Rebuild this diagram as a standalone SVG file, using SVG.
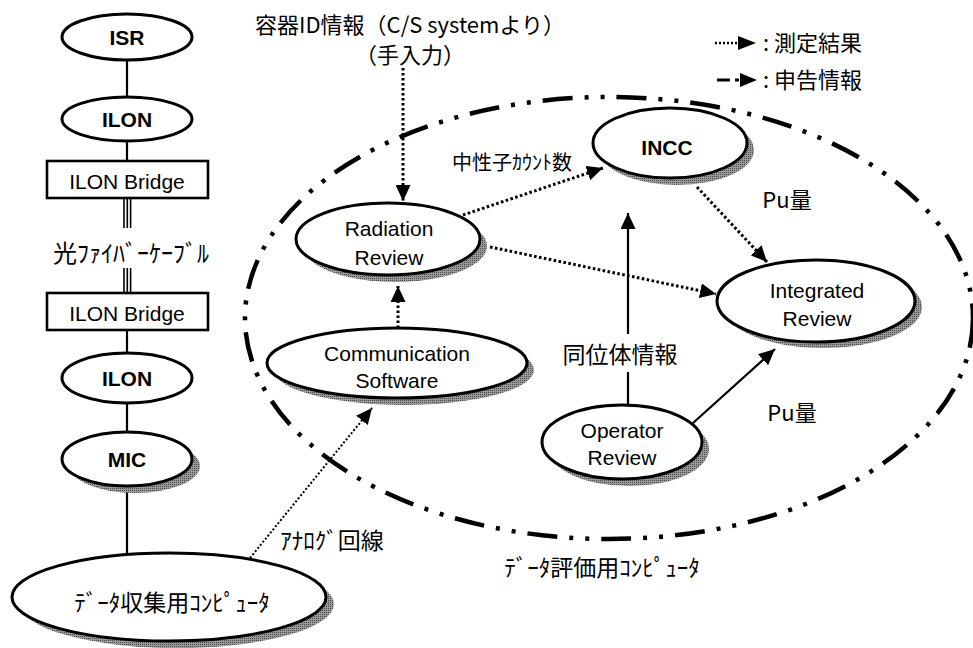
<svg xmlns="http://www.w3.org/2000/svg" width="973" height="648" viewBox="0 0 973 648">
  <style>
    .node { fill: #ffffff; stroke: #000000; stroke-width: 3; }
    .box { fill: #ffffff; stroke: #000000; stroke-width: 2.6; }
    .shade { fill: url(#grain); stroke: none; }
    .en { font-family: "Liberation Sans", Arial, sans-serif; font-size: 21px; fill: #000000; text-anchor: middle; }
    .enb { font-weight: bold; }
    .jp { font-family: "Noto Sans CJK JP", "Noto Sans", sans-serif; fill: #000000; text-anchor: middle; }
    .jpl { font-family: "Noto Sans CJK JP", "Noto Sans", sans-serif; fill: #000000; text-anchor: start; }
    .solid { fill: none; stroke: #000000; stroke-width: 2.2; }
    .dotted { fill: none; stroke: #000000; stroke-width: 3; stroke-dasharray: 2.6 2.4; }
    .fine { fill: none; stroke: #000000; stroke-width: 2; stroke-dasharray: 2 2; }
    .fiber { fill: none; stroke: #000000; stroke-width: 1.6; }
    .boundary { fill: none; stroke: #000000; stroke-width: 4.5; stroke-dasharray: 30 12 4 12 4 12; }
  </style>
  <defs>
    <marker id="head" markerUnits="userSpaceOnUse" markerWidth="17" markerHeight="15" refX="16" refY="7.5" orient="auto">
      <path d="M0,0 L16,7.5 L0,15 Z" fill="#000000"/>
    </marker>
    <!-- halftone grey used for the drop shadows -->
    <pattern id="grain" patternUnits="userSpaceOnUse" width="2" height="2">
      <rect x="0" y="0" width="2" height="2" fill="#9a9a9a"/>
      <rect x="0" y="0" width="1" height="1" fill="#4a4a4a"/>
    </pattern>
  </defs>

  <rect x="0" y="0" width="973" height="648" fill="#ffffff"/>

  <!-- data-evaluation computer boundary -->
  <ellipse class="boundary" cx="609" cy="318" rx="364" ry="221"/>

  <!-- connectors -->
  <g id="connectors">
    <!-- left chain -->
    <line class="solid" x1="127" y1="60" x2="127" y2="97"/>
    <line class="solid" x1="127" y1="141" x2="127" y2="161"/>
    <g class="fiber">
      <line x1="124" y1="198" x2="124" y2="228"/>
      <line x1="127.3" y1="198" x2="127.3" y2="228"/>
      <line x1="130.6" y1="198" x2="130.6" y2="228"/>
      <line x1="124" y1="268" x2="124" y2="293"/>
      <line x1="127.3" y1="268" x2="127.3" y2="293"/>
      <line x1="130.6" y1="268" x2="130.6" y2="293"/>
    </g>
    <line class="solid" x1="127" y1="330" x2="127" y2="353"/>
    <line class="solid" x1="127" y1="403" x2="127" y2="432"/>
    <line class="solid" x1="127" y1="486" x2="127" y2="553"/>

    <!-- analog line -->
    <line class="fine" x1="250" y1="558" x2="372" y2="408" marker-end="url(#head)"/>
    <!-- container ID input -->
    <line class="dotted" x1="403" y1="68" x2="403" y2="201" marker-end="url(#head)"/>
    <!-- Communication Software to Radiation Review -->
    <line class="dotted" x1="398" y1="328" x2="398" y2="286" marker-end="url(#head)"/>
    <!-- Radiation Review to INCC -->
    <line class="dotted" x1="463" y1="215" x2="603" y2="168" marker-end="url(#head)"/>
    <!-- Radiation Review to Integrated Review -->
    <line class="dotted" x1="490" y1="247" x2="716" y2="294" marker-end="url(#head)"/>
    <!-- INCC to Integrated Review -->
    <line class="dotted" x1="697" y1="187" x2="767" y2="262" marker-end="url(#head)"/>
    <!-- Operator Review to INCC (isotope info) -->
    <line class="solid" x1="628" y1="405" x2="628" y2="372"/>
    <line class="solid" x1="628" y1="334" x2="628" y2="213" marker-end="url(#head)"/>
    <!-- Operator Review to Integrated Review -->
    <line class="solid" x1="693" y1="423" x2="775" y2="349" marker-end="url(#head)"/>
  </g>

  <!-- left chain nodes -->
  <g id="isr">
    <ellipse class="node" cx="127" cy="37" rx="65" ry="23"/>
    <text class="en enb" x="127" y="44.5">ISR</text>
  </g>
  <g id="ilon-upper">
    <ellipse class="node" cx="127" cy="119" rx="65" ry="22"/>
    <text class="en enb" x="127" y="126.5">ILON</text>
  </g>
  <g id="bridge-upper">
    <rect class="box" x="47" y="161" width="161" height="37"/>
    <text class="en" x="127" y="189">ILON Bridge</text>
  </g>
  <g id="fiber-label">
    <text class="jp" x="131" y="262" font-size="24">光ﾌｧｲﾊﾞｰｹｰﾌﾞﾙ</text>
  </g>
  <g id="bridge-lower">
    <rect class="box" x="47" y="293" width="161" height="37"/>
    <text class="en" x="127" y="321">ILON Bridge</text>
  </g>
  <g id="ilon-lower">
    <ellipse class="node" cx="127" cy="378" rx="65" ry="25"/>
    <text class="en enb" x="127" y="385.5">ILON</text>
  </g>
  <g id="mic">
    <ellipse class="shade" cx="135" cy="466" rx="65" ry="27"/>
    <ellipse class="node" cx="127" cy="459" rx="65" ry="27"/>
    <text class="en enb" x="127" y="466.5">MIC</text>
  </g>
  <g id="collection-pc">
    <ellipse class="shade" cx="177" cy="604" rx="157" ry="44"/>
    <ellipse class="node" cx="169" cy="597" rx="157" ry="44"/>
    <text class="jp" x="172" y="611" font-size="23">ﾃﾞｰﾀ収集用ｺﾝﾋﾟｭｰﾀ</text>
  </g>

  <!-- evaluation nodes -->
  <g id="radiation-review">
    <ellipse class="shade" cx="395" cy="246" rx="92" ry="36"/>
    <ellipse class="node" cx="388" cy="239" rx="92" ry="36"/>
    <text class="en" x="389" y="235.5">Radiation</text>
    <text class="en" x="389" y="264.5">Review</text>
  </g>
  <g id="communication-software">
    <ellipse class="shade" cx="404" cy="370" rx="130" ry="35"/>
    <ellipse class="node" cx="397" cy="363" rx="130" ry="35"/>
    <text class="en" x="397" y="360.5">Communication</text>
    <text class="en" x="397" y="388">Software</text>
  </g>
  <g id="incc">
    <ellipse class="shade" cx="677" cy="150" rx="77" ry="35"/>
    <ellipse class="node" cx="670" cy="143" rx="77" ry="35"/>
    <text class="en enb" x="667" y="154.5">INCC</text>
  </g>
  <g id="integrated-review">
    <ellipse class="shade" cx="823" cy="307" rx="99" ry="41"/>
    <ellipse class="node" cx="816" cy="301" rx="99" ry="41"/>
    <text class="en" x="817" y="297.5">Integrated</text>
    <text class="en" x="817" y="325.5">Review</text>
  </g>
  <g id="operator-review">
    <ellipse class="shade" cx="629" cy="449" rx="80" ry="37"/>
    <ellipse class="node" cx="622" cy="442" rx="80" ry="37"/>
    <text class="en" x="622" y="437.5">Operator</text>
    <text class="en" x="622" y="464.5">Review</text>
  </g>

  <!-- labels -->
  <g id="labels">
    <text class="jp" x="410" y="33" font-size="22">容器ID情報（C/S systemより）</text>
    <text class="jp" x="410" y="63" font-size="22">（手入力）</text>
    <text class="jp" x="512" y="170" font-size="20">中性子ｶｳﾝﾄ数</text>
    <text class="jp" x="787" y="208" font-size="22">Pu量</text>
    <text class="jp" x="620" y="363" font-size="23">同位体情報</text>
    <text class="jp" x="792" y="421" font-size="22">Pu量</text>
    <text class="jp" x="332" y="549" font-size="23">ｱﾅﾛｸﾞ回線</text>
    <text class="jp" x="602" y="576" font-size="23">ﾃﾞｰﾀ評価用ｺﾝﾋﾟｭｰﾀ</text>
  </g>

  <!-- legend -->
  <g id="legend">
    <line x1="715" y1="43" x2="739" y2="43" stroke="#000000" stroke-width="2.5" stroke-dasharray="2 2"/>
    <path d="M738,36 L756,43 L738,50 Z" fill="#000000"/>
    <text class="jpl" x="763" y="51" font-size="22">: 測定結果</text>
    <line x1="717" y1="80" x2="730" y2="80" stroke="#000000" stroke-width="3"/>
    <line x1="735" y1="80" x2="739" y2="80" stroke="#000000" stroke-width="3"/>
    <path d="M740,73 L757,80 L740,87 Z" fill="#000000"/>
    <text class="jpl" x="763" y="88" font-size="22">: 申告情報</text>
  </g>
</svg>
